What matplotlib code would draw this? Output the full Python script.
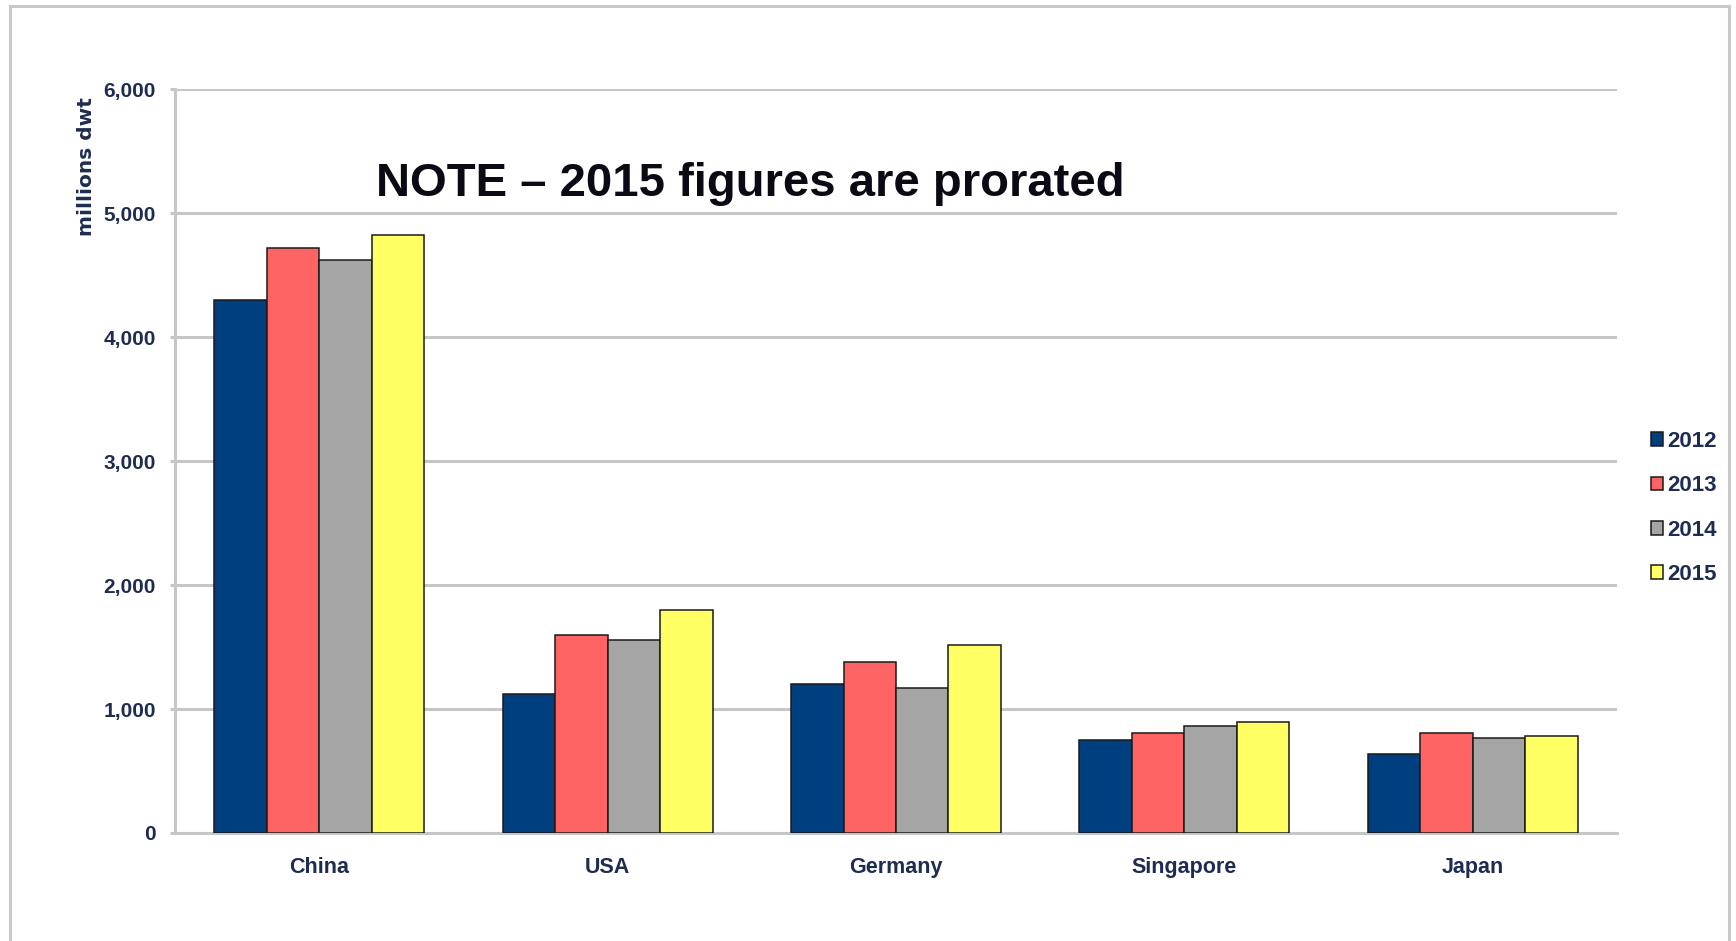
import numpy as np
import matplotlib.pyplot as plt
from matplotlib.lines import Line2D

# Data (millions dwt)
countries = ["China", "USA", "Germany", "Singapore", "Japan"]
years = ["2012", "2013", "2014", "2015"]
values_2012 = [4300, 1120, 1200, 750, 635]
values_2013 = [4720, 1600, 1380, 810, 810]
values_2014 = [4620, 1555, 1170, 862, 765]
values_2015 = [4820, 1800, 1515, 895, 780]
yticks = [0, 1000, 2000, 3000, 4000, 5000, 6000]

series = [values_2012, values_2013, values_2014, values_2015]
colors = ["#003f7f", "#ff6464", "#a5a5a5", "#ffff64"]
text_color = "#1f2c52"
grid_color = "#c6c6c6"

W, H = 1736, 941
fig = plt.figure(figsize=(W / 100, H / 100), dpi=100)
ax = fig.add_axes([175 / W, 1 - 833 / H, (1617 - 175) / W, (833 - 89) / H])

x = np.arange(len(countries))
bw = 0.182
for i, (vals, col, yr) in enumerate(zip(series, colors, years)):
    ax.bar(x + (i - 1.5) * bw, vals, bw, color=col, edgecolor="#1a1a1a",
           linewidth=1.1, label=yr, zorder=3)

ax.set_xlim(-0.5, len(countries) - 0.5)
ax.set_ylim(0, 6000)
ax.set_yticks(yticks)
ax.set_yticklabels([f"{v:,}" for v in yticks])
ax.set_xticks(x)
ax.set_xticklabels(countries)

# gridlines and axis lines
ax.yaxis.grid(True, color=grid_color, linewidth=2.2, zorder=0)
for side in ["top", "right"]:
    ax.spines[side].set_visible(False)
for side in ["left", "bottom"]:
    ax.spines[side].set_color(grid_color)
    ax.spines[side].set_linewidth(2.2)
    ax.spines[side].set_zorder(1)

ax.tick_params(axis="y", length=3.6, width=2.2, color=grid_color, pad=10)
ax.tick_params(axis="x", length=0, pad=17)
for lbl in ax.get_yticklabels():
    lbl.set_fontfamily(["Liberation Sans", "DejaVu Sans"])
    lbl.set_fontweight("bold")
    lbl.set_fontsize(15)
    lbl.set_color(text_color)
for lbl in ax.get_xticklabels():
    lbl.set_fontfamily(["Liberation Sans", "DejaVu Sans"])
    lbl.set_fontweight("bold")
    lbl.set_fontsize(15.5)
    lbl.set_color(text_color)

# y axis label at the top of the axis
fig.text(87 / W, 1 - 97 / H, "millions dwt", rotation=90, ha="center", va="top",
         fontsize=14.5, fontweight="bold", color=text_color,
         family=["DejaVu Sans"])

# note
fig.text(376 / W, 1 - 184 / H, "NOTE \u2013 2015 figures are prorated",
         ha="left", va="center", fontsize=34, fontweight="bold", color="#0a0a14",
         family=["Liberation Sans", "DejaVu Sans"])

leg = ax.legend(loc="center left", bbox_to_anchor=(1651 / W, 1 - 508 / H),
                bbox_transform=fig.transFigure, frameon=False,
                handlelength=0.55, handleheight=0.55, handletextpad=0.2,
                labelspacing=1.05, borderaxespad=0, borderpad=0,
                prop={"family": ["Liberation Sans", "DejaVu Sans"],
                      "weight": "bold", "size": 16})
for t in leg.get_texts():
    t.set_color(text_color)

# outer frame (top, left, right)
fc = "#c8c8c8"
fig.add_artist(Line2D([10 / W, 10 / W], [0, 1 - 6 / H], color=fc, lw=2.2, transform=fig.transFigure))
fig.add_artist(Line2D([10 / W, 1729 / W], [1 - 6 / H, 1 - 6 / H], color=fc, lw=2.2, transform=fig.transFigure))
fig.add_artist(Line2D([1729 / W, 1729 / W], [0, 1 - 6 / H], color=fc, lw=2.2, transform=fig.transFigure))

fig.savefig("out.png", dpi=100)
